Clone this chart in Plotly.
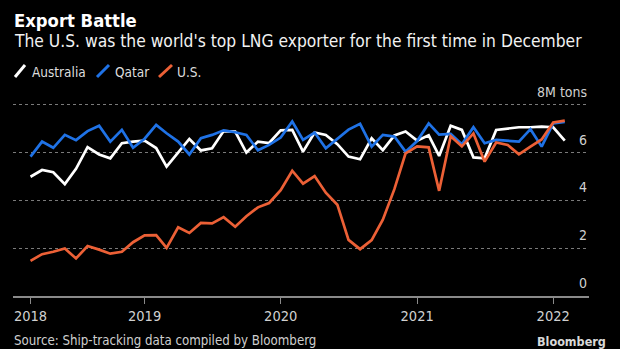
import pandas as pd
import plotly.graph_objects as go

# ---- data (million tons per month) ----
months = pd.date_range("2018-03-01", periods=48, freq="MS")

australia = [4.99, 5.27, 5.18, 4.68, 5.32, 6.23, 5.92, 5.76, 6.39, 6.46, 6.50, 6.19,
             5.41, 5.98, 6.57, 6.09, 6.18, 6.90, 6.88, 6.00, 6.46, 6.40, 6.93, 6.95,
             6.04, 6.84, 6.74, 6.35, 5.83, 5.72, 6.60, 6.10, 6.72, 6.88, 6.50, 6.72,
             5.86, 7.12, 6.95, 5.80, 5.76, 6.95, 7.02, 7.06, 7.06, 7.09, 7.06, 6.50]

qatar = [5.83, 6.46, 6.20, 6.74, 6.52, 6.90, 7.12, 6.46, 6.95, 6.20, 6.58, 7.16,
         6.81, 6.46, 5.92, 6.60, 6.74, 6.93, 6.85, 6.74, 6.10, 6.32, 6.63, 7.30,
         6.53, 6.84, 6.18, 6.57, 6.96, 7.20, 6.25, 6.74, 6.67, 6.04, 6.48, 7.22,
         6.75, 6.78, 6.35, 7.06, 6.39, 6.53, 6.50, 6.46, 6.98, 6.25, 7.22, 7.28]

us = [1.47, 1.75, 1.85, 1.99, 1.57, 2.09, 1.94, 1.77, 1.85, 2.25, 2.54, 2.55,
      2.01, 2.87, 2.64, 3.06, 3.04, 3.30, 2.90, 3.34, 3.71, 3.89, 4.43, 5.24,
      4.70, 5.02, 4.32, 3.82, 2.35, 1.96, 2.34, 3.19, 4.47, 5.97, 6.26, 6.22,
      4.40, 6.68, 6.26, 6.80, 5.62, 6.42, 6.32, 5.93, 6.25, 6.55, 7.26, 7.34]

series_names = ["Australia", "Qatar", "U.S."]
series_values = [australia, qatar, us]
series_colors = ["#ffffff", "#1f72e6", "#ec6036"]

x_tick_vals = ["2018-03-01", "2019-01-01", "2020-01-01", "2021-01-01", "2022-01-01"]
x_tick_text = ["2018", "2019", "2020", "2021", "2022"]
y_tick_vals = [0, 2, 4, 6, 8]
y_tick_text = ["0", "2", "4", "6", "8M tons"]

# ---- layout geometry (pixels) ----
W, H = 620, 349
ML, MR, MT, MB = 13, 31, 100, 53
PW, PH = W - ML - MR, H - MT - MB
FONT = "Liberation Sans Narrow, DejaVu Sans Condensed, Roboto Condensed, Arial Narrow, sans-serif"


def px(x):
    return (x - ML) / PW


def py(y):
    return (H - MB - y) / PH


fig = go.Figure()
for name, vals, col in zip(series_names, series_values, series_colors):
    fig.add_trace(go.Scatter(x=months, y=vals, mode="lines", name=name,
                             line=dict(color=col, width=2.7), showlegend=False,
                             hoverinfo="skip"))

annotations = []
# title / subtitle
annotations.append(dict(text="<b>Export Battle</b>", x=px(12), y=py(20), xref="paper", yref="paper",
                        xanchor="left", yanchor="middle", showarrow=False,
                        font=dict(family=FONT, size=18.3, color="#ffffff")))
annotations.append(dict(text="The U.S. was the world's top LNG exporter for the first time in December",
                        x=px(12), y=py(41.5), xref="paper", yref="paper",
                        xanchor="left", yanchor="middle", showarrow=False,
                        font=dict(family=FONT, size=17.3, color="#f2f2f2")))

# custom legend with slash icons
legend_slash = [(15, 25), (97, 109), (159, 172)]
legend_text_x = [30, 113, 175]
shapes = []
for (x0, x1), tx, name, col in zip(legend_slash, legend_text_x, series_names, series_colors):
    shapes.append(dict(type="line", xref="paper", yref="paper",
                       x0=px(x0), y0=py(77), x1=px(x1), y1=py(65),
                       line=dict(color=col, width=3)))
    annotations.append(dict(text=name, x=px(tx), y=py(71.5), xref="paper", yref="paper",
                            xanchor="left", yanchor="middle", showarrow=False,
                            font=dict(family=FONT, size=13.5, color="#dddddd")))

# y labels sitting above gridlines at the right
for v, t in zip(y_tick_vals, y_tick_text):
    annotations.append(dict(text=t, x=1.0, y=v, xref="paper", yref="y",
                            xanchor="right", yanchor="middle", yshift=13, showarrow=False,
                            font=dict(family=FONT, size=14, color="#d0d0d0")))

# source + logo
annotations.append(dict(text="Source: Ship-tracking data compiled by Bloomberg", x=px(12), y=py(340),
                        xref="paper", yref="paper", xanchor="left", yanchor="middle", showarrow=False,
                        font=dict(family=FONT, size=13.2, color="#cfcfcf")))
annotations.append(dict(text="<b>Bloomberg</b>", x=px(608), y=py(341), xref="paper", yref="paper",
                        xanchor="right", yanchor="middle", showarrow=False,
                        font=dict(family=FONT, size=12.5, color="#d8d8d8")))

fig.update_layout(
    width=W, height=H,
    margin=dict(l=ML, r=MR, t=MT, b=MB, pad=0),
    paper_bgcolor="#000000", plot_bgcolor="#000000",
    showlegend=False,
    annotations=annotations, shapes=shapes,
    xaxis=dict(type="date", range=["2018-01-13", "2022-04-07"],
               tickvals=x_tick_vals, ticktext=x_tick_text,
               showgrid=False, zeroline=False,
               showline=True, linecolor="#8a8a8a", linewidth=2,
               ticks="outside", ticklen=6, tickwidth=1, tickcolor="#8a8a8a",
               tickfont=dict(family=FONT, size=14.5, color="#d0d0d0")),
    yaxis=dict(range=[0, 8.2], tickvals=y_tick_vals, showticklabels=False,
               showgrid=True, gridcolor="#7a7a7a", gridwidth=1, griddash="dot",
               zeroline=False, showline=False, fixedrange=True),
)

fig.write_html("out.html")
